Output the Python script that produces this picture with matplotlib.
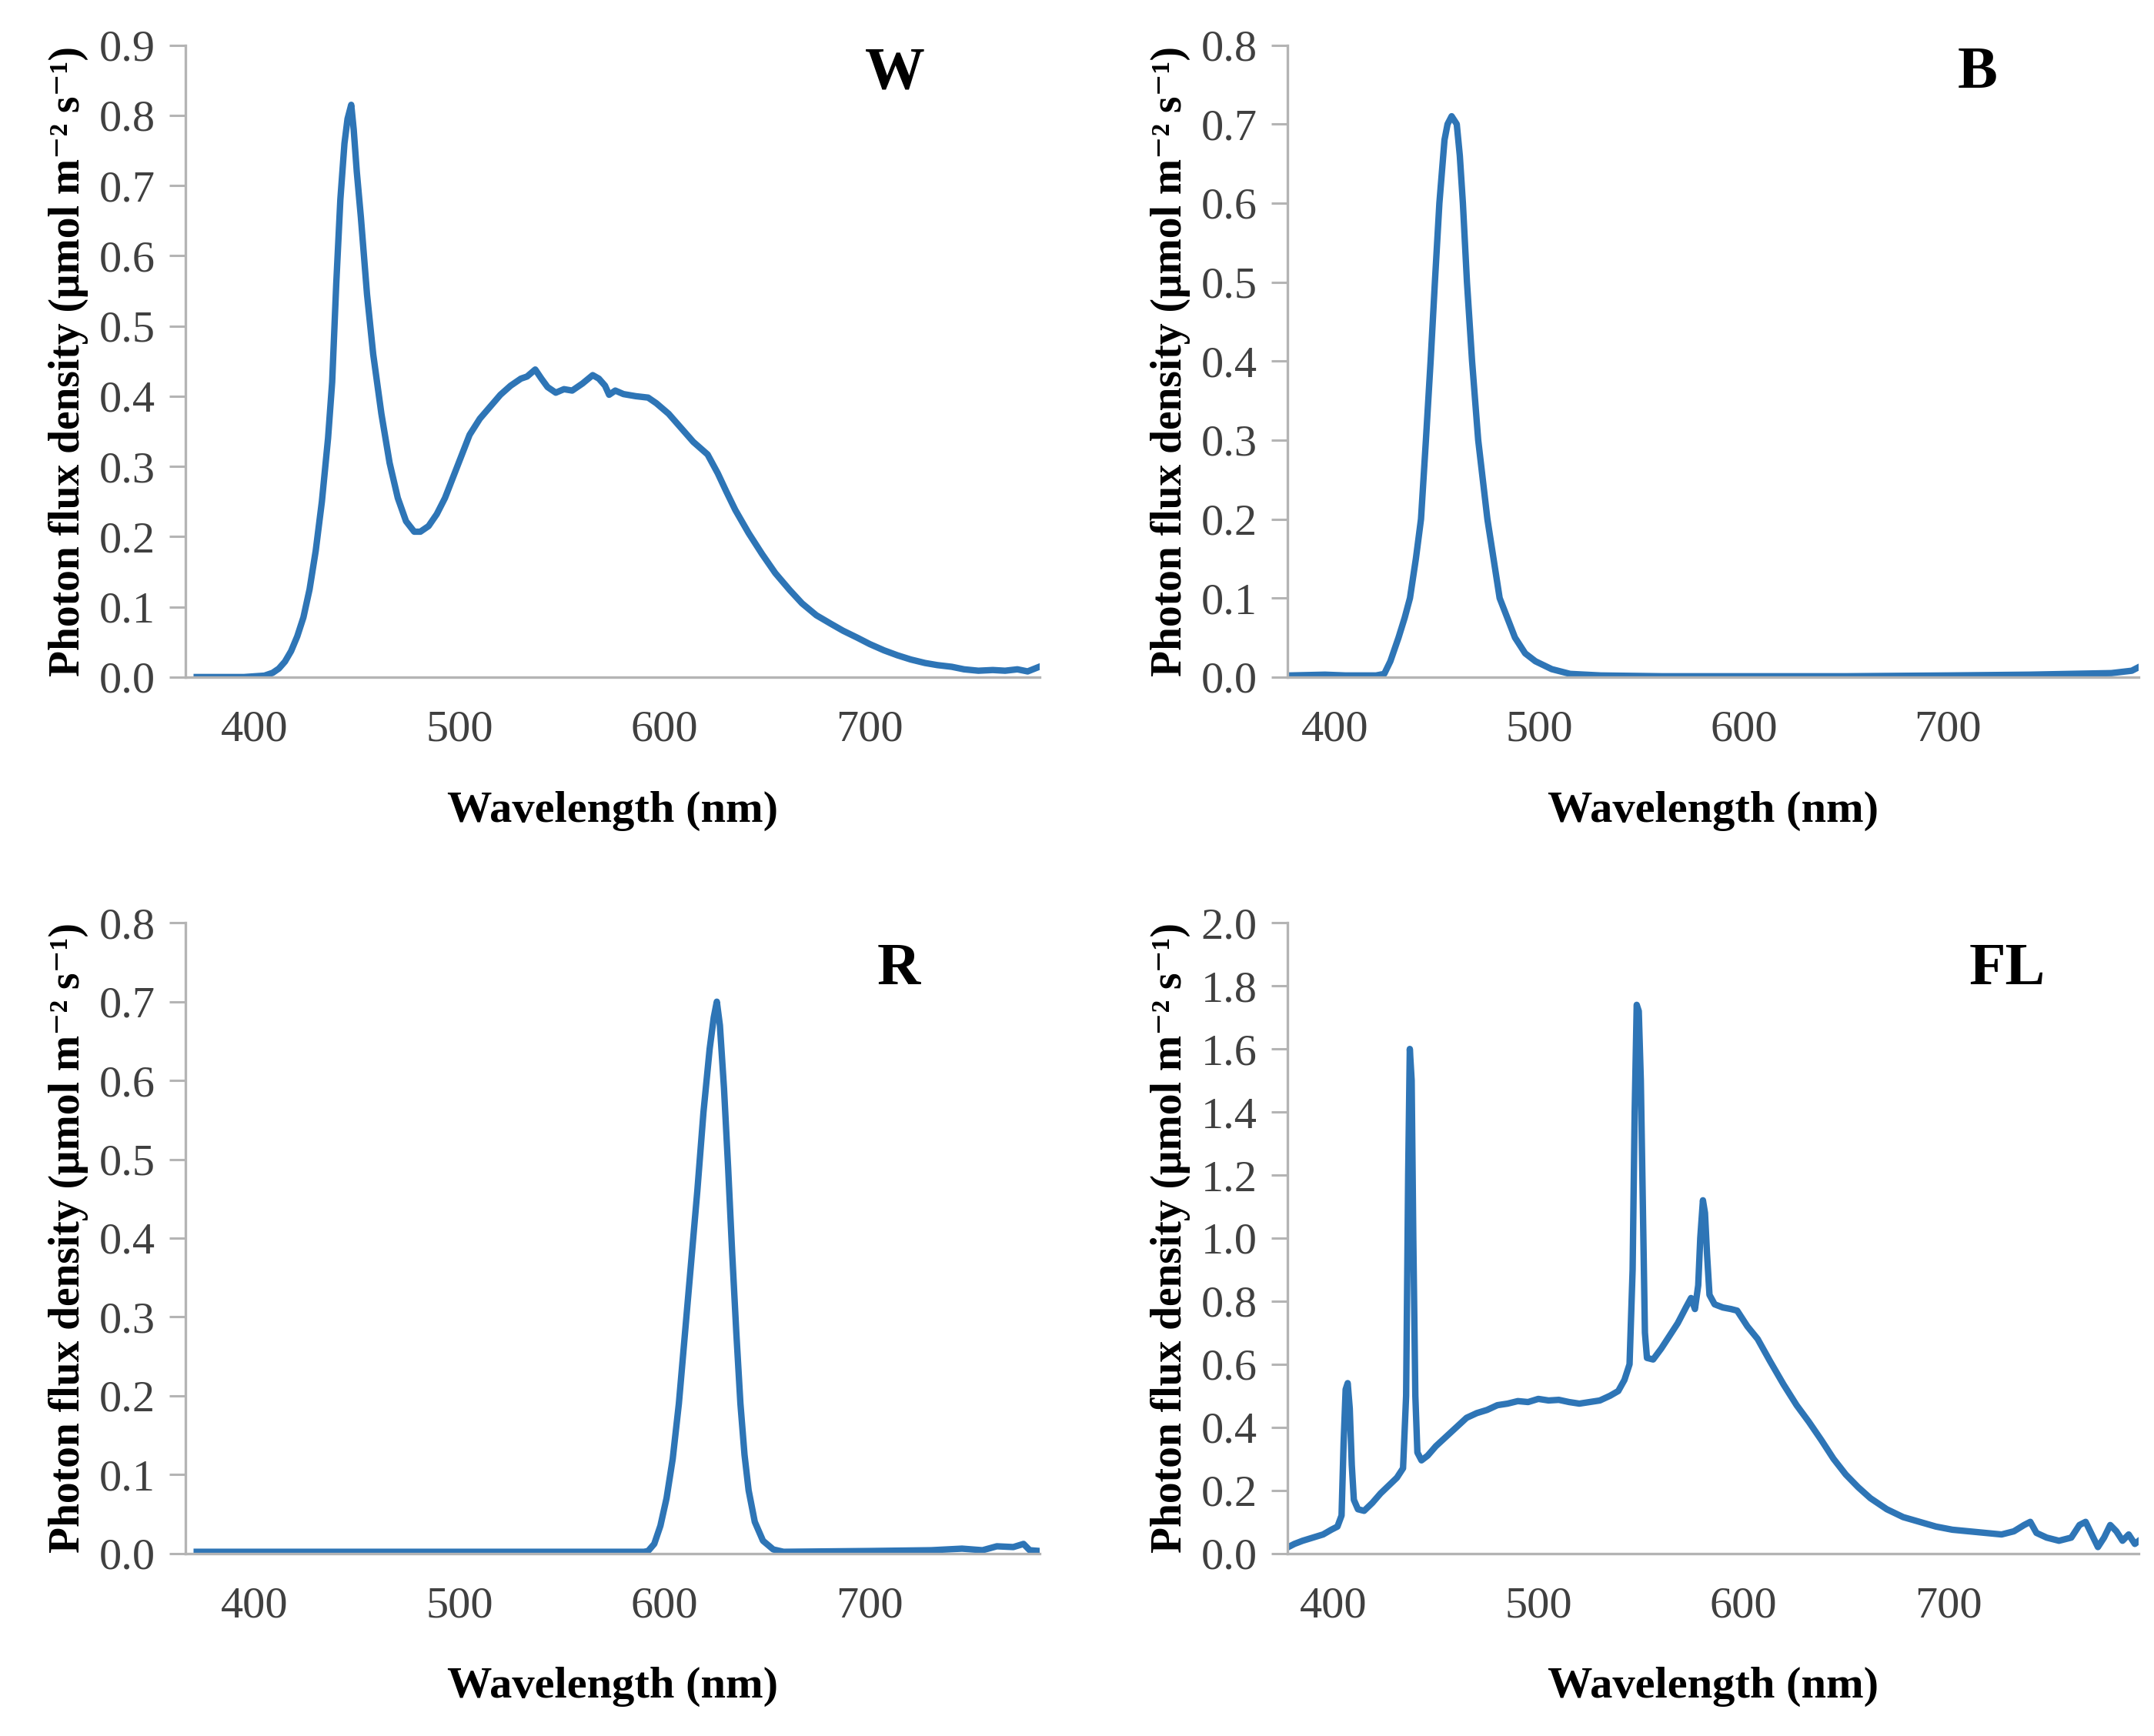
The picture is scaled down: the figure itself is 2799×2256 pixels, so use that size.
import matplotlib
matplotlib.use("Agg")
import matplotlib.pyplot as plt
from matplotlib.ticker import MultipleLocator, FormatStrFormatter

# spectra (wavelength in nm, photon flux density)
w_nm = [372, 395, 405, 409, 412, 415, 418, 421, 424, 427, 430, 433, 436, 438, 440, 442, 444,
        445.5, 447.3, 448.5, 450, 452, 455, 458, 462, 466, 470, 474, 478, 481, 485, 489, 493,
        497, 501, 505, 510, 515, 520, 525, 530, 533, 537, 540, 543, 547, 551, 555, 560, 565,
        568, 571, 573, 576, 580, 586, 592, 596, 602, 608, 614, 621, 626, 630, 634.5, 641,
        647.6, 654, 661, 667, 674, 681, 687, 694, 700, 707, 713.5, 720, 727, 733, 740, 746,
        753, 760, 766, 772, 777, 783]
w_flux = [0.0, 0.0, 0.002, 0.006, 0.012, 0.022, 0.037, 0.058, 0.085, 0.125, 0.18, 0.25, 0.34, 0.42, 0.56, 0.68, 0.76,
          0.795, 0.815, 0.78, 0.72, 0.655, 0.545, 0.46, 0.375, 0.305, 0.255, 0.222, 0.207, 0.207, 0.215, 0.232, 0.255,
          0.285, 0.315, 0.345, 0.368, 0.385, 0.402, 0.415, 0.425, 0.428, 0.438, 0.425, 0.413, 0.405, 0.41, 0.408, 0.418, 0.43,
          0.425, 0.415, 0.402, 0.408, 0.403, 0.40, 0.398, 0.39, 0.375, 0.355, 0.335, 0.317, 0.29, 0.265, 0.238, 0.205,
          0.175, 0.148, 0.124, 0.105, 0.088, 0.076, 0.066, 0.056, 0.047, 0.038, 0.031, 0.025, 0.020, 0.017, 0.0146, 0.011,
          0.009, 0.01, 0.009, 0.011, 0.008, 0.015]

b_nm = [378, 395, 405, 420, 424, 427, 431, 434, 436.6, 439.5, 442, 444.4, 446.7, 448.8, 451, 453.5,
        455, 457, 459.5, 461, 462.5, 464.5, 467, 470, 474.5, 480.5, 488, 493, 498, 506, 515, 530,
        560, 600, 650, 700, 740, 760, 780, 790, 793]
b_flux = [0.002, 0.003, 0.002, 0.002, 0.004, 0.02, 0.05, 0.075, 0.10, 0.15, 0.20, 0.30, 0.40, 0.50, 0.60, 0.68,
          0.70, 0.71, 0.70, 0.66, 0.60, 0.50, 0.40, 0.30, 0.20, 0.10, 0.05, 0.03, 0.02, 0.01, 0.004, 0.002,
          0.001, 0.001, 0.001, 0.002, 0.003, 0.004, 0.005, 0.008, 0.012]

r_nm = [372, 450, 520, 590, 592, 595, 598, 601, 604, 607, 610, 613, 616, 619, 622, 624, 625.5,
        627, 629, 631, 633, 635, 637, 639, 641, 644, 648, 653, 658, 700, 730, 745, 755, 762, 770,
        775, 778, 783]
r_flux = [0.002, 0.002, 0.002, 0.002, 0.003, 0.012, 0.035, 0.07, 0.12, 0.19, 0.28, 0.37, 0.46, 0.56, 0.64, 0.68, 0.70,
          0.67, 0.59, 0.49, 0.38, 0.28, 0.19, 0.125, 0.08, 0.04, 0.016, 0.005, 0.002, 0.003, 0.004, 0.006, 0.004, 0.009, 0.008,
          0.012, 0.004, 0.003]

fl_nm = [378, 381, 385, 390, 395, 399, 402, 404, 405, 406, 407, 408, 409, 410, 412, 415, 419, 423,
         427, 431, 434, 435.5, 436.5, 437.3, 438.2, 439, 440, 441, 443, 446, 450, 455, 460, 465,
         470, 475, 480, 485, 490, 495, 500, 505, 510, 515, 520, 525, 530, 535, 539, 542, 544.5,
         546, 547, 548, 549, 550, 551, 552, 553, 556, 560, 564, 568, 572, 574.5, 576.4, 578, 579,
         580.3, 581.3, 582.3, 583.5, 586, 590, 594, 597, 602, 607, 613, 619.6, 626, 632, 638, 644,
         650, 656, 662, 670, 678, 686, 694, 702, 710, 718, 726, 732, 737, 740, 743, 748, 754, 760,
         764, 767, 770, 773, 776, 779, 782, 785, 788, 791, 793]
fl_flux = [0.02, 0.03, 0.04, 0.05, 0.06, 0.075, 0.085, 0.12, 0.35, 0.52, 0.54, 0.46, 0.28, 0.17, 0.14, 0.135, 0.16, 0.19,
           0.215, 0.24, 0.27, 0.50, 1.20, 1.60, 1.50, 1.00, 0.50, 0.32, 0.295, 0.31, 0.34, 0.37, 0.40, 0.43,
           0.445, 0.455, 0.47, 0.475, 0.483, 0.48, 0.49, 0.485, 0.487, 0.48, 0.475, 0.48, 0.485, 0.50, 0.515, 0.55, 0.60,
           0.90, 1.40, 1.74, 1.72, 1.50, 1.10, 0.70, 0.62, 0.615, 0.65, 0.69, 0.73, 0.78, 0.81, 0.775, 0.85, 1.00,
           1.12, 1.08, 0.95, 0.82, 0.79, 0.78, 0.775, 0.77, 0.72, 0.68, 0.61, 0.536, 0.47, 0.417, 0.36, 0.30,
           0.25, 0.21, 0.175, 0.14, 0.115, 0.10, 0.085, 0.075, 0.07, 0.065, 0.06, 0.07, 0.09, 0.10, 0.065, 0.05, 0.04, 0.05,
           0.09, 0.10, 0.06, 0.02, 0.05, 0.09, 0.07, 0.04, 0.06, 0.03, 0.04]

panel_names = ["W", "B", "R", "FL"]
y_tops = [0.9, 0.8, 0.8, 2.0]
y_steps = [0.1, 0.1, 0.1, 0.2]
x_ticks = [400, 500, 600, 700]

LINE = "#2e75b6"
GRID = "#b4b4b4"
TXT = "#404040"
SERIF = ["Liberation Serif", "DejaVu Serif"]

plt.rcParams["font.family"] = SERIF

fig = plt.figure(figsize=(27.99, 22.56), dpi=100)

# [left, bottom, width, height], x limits, letter position
boxes = [
    ([0.0861, 0.610, 0.3967, 0.364], (366.5, 783.0), (0.83, 0.955)),
    ([0.5976, 0.610, 0.3954, 0.364], (376.5, 793.5), (0.81, 0.955)),
    ([0.0861, 0.1052, 0.3967, 0.3632], (366.5, 783.0), (0.835, 0.925)),
    ([0.5976, 0.1052, 0.3954, 0.3632], (377.5, 793.0), (0.845, 0.925)),
]
series = [(w_nm, w_flux), (b_nm, b_flux), (r_nm, r_flux), (fl_nm, fl_flux)]

for i, (box, xlim, letter) in enumerate(boxes):
    ax = fig.add_axes(box)
    x, y = series[i]
    ax.plot(x, y, color=LINE, lw=6, solid_joinstyle="round")
    ax.set_xlim(*xlim)
    ax.set_ylim(0, y_tops[i])
    ax.yaxis.set_major_locator(MultipleLocator(y_steps[i]))
    ax.yaxis.set_major_formatter(FormatStrFormatter("%.1f"))
    ax.set_xticks(x_ticks)
    for side in ("top", "right"):
        ax.spines[side].set_visible(False)
    for side in ("left", "bottom"):
        ax.spines[side].set_color(GRID)
        ax.spines[side].set_linewidth(2.4)
    ax.tick_params(axis="y", direction="out", length=15, width=2.2, color=GRID,
                   labelsize=42, labelcolor=TXT, pad=13)
    ax.tick_params(axis="x", length=0, labelsize=42, labelcolor=TXT, pad=31)
    ax.set_xlabel("Wavelength (nm)", fontsize=42, fontweight="bold")
    ax.xaxis.set_label_coords(0.5, -0.18)
    ax.xaxis.label.set_va("top")
    ax.set_ylabel("Photon flux density (\u03bcmol m\u207b\u00b2 s\u207b\u00b9)",
                  fontsize=40, fontweight="bold")
    ax.yaxis.set_label_coords(-0.137, 0.5)
    ax.yaxis.label.set_va("center")
    ax.text(letter[0], letter[1], panel_names[i], transform=ax.transAxes,
            fontsize=56, fontweight="bold", ha="center", va="center")

fig.savefig("out.png", dpi=100, facecolor="white")
